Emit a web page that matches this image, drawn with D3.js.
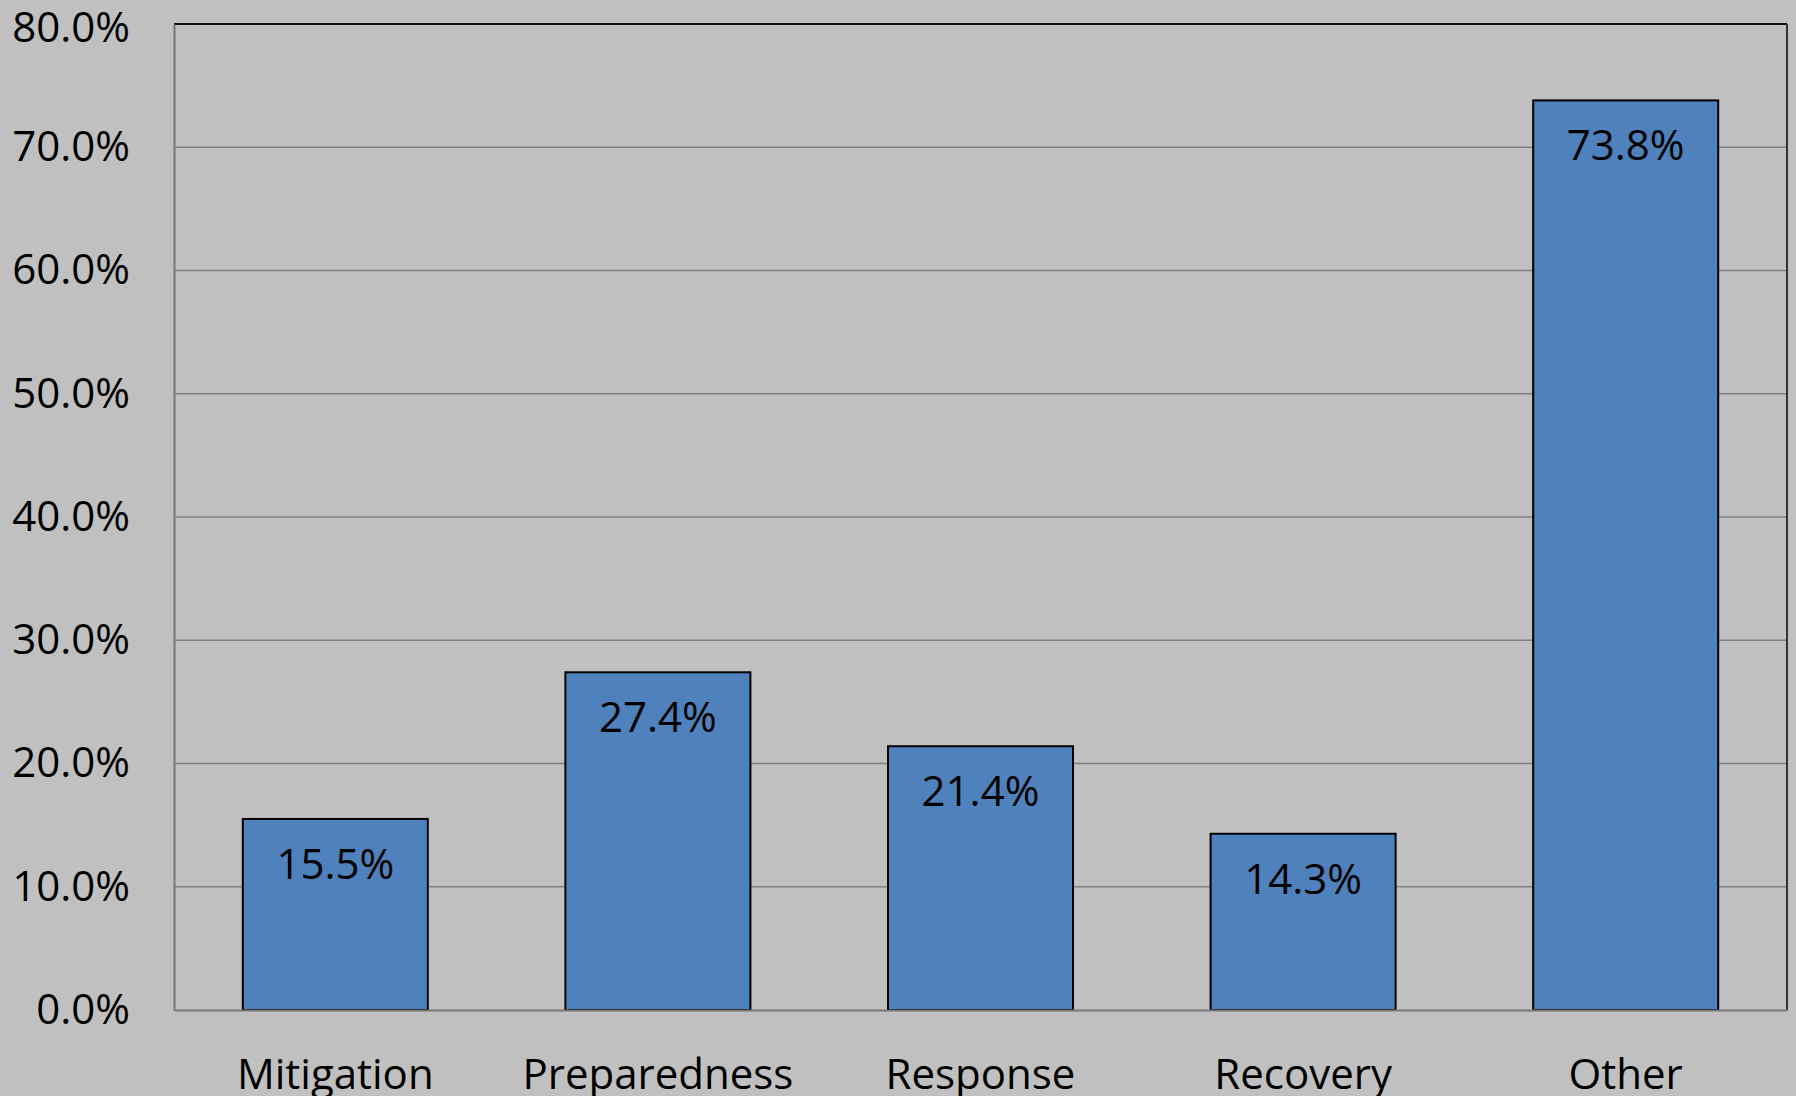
<!DOCTYPE html>
<html>
<head>
<meta charset="utf-8">
<script src="https://cdn.jsdelivr.net/npm/d3@7"></script>
<style>
  html, body { margin: 0; padding: 0; background: #c0c0c0; }
  svg { display: block; }
  text { font-family: "Open Sans", sans-serif; fill: #000; }
</style>
</head>
<body>
<svg id="chart" width="1796" height="1096"></svg>
<script>
// Share of responses by phase of emergency management
const categories = ["Mitigation", "Preparedness", "Response", "Recovery", "Other"];
const values = [15.5, 27.4, 21.4, 14.3, 73.8];
const yTicks = [0, 10, 20, 30, 40, 50, 60, 70, 80];

const W = 1796, H = 1096;
const plot = { left: 174, right: 1787, top: 24, bottom: 1010 };
const fontSize = 42;

const svg = d3.select("#chart");
svg.append("rect").attr("width", W).attr("height", H).attr("fill", "#c0c0c0");

const x = d3.scaleBand()
  .domain(categories)
  .range([plot.left, plot.right])
  .paddingInner(0.4265)
  .paddingOuter(0.4265 / 2);

const y = d3.scaleLinear().domain([0, 80]).range([plot.bottom, plot.top]);

// horizontal gridlines
svg.append("g")
  .selectAll("line")
  .data(yTicks.filter(t => t > 0 && t < 80))
  .join("line")
  .attr("x1", plot.left).attr("x2", plot.right)
  .attr("y1", d => y(d)).attr("y2", d => y(d))
  .attr("stroke", "#808080").attr("stroke-width", 1.5);

// plot frame: top/right dark, axis lines grey
svg.append("line").attr("x1", plot.left).attr("x2", plot.right)
  .attr("y1", y(80)).attr("y2", y(80)).attr("stroke", "#111").attr("stroke-width", 2);
svg.append("line").attr("x1", plot.right).attr("x2", plot.right)
  .attr("y1", y(80)).attr("y2", plot.bottom).attr("stroke", "#333").attr("stroke-width", 2);

// bars
svg.append("g")
  .selectAll("rect")
  .data(values)
  .join("rect")
  .attr("x", (d, i) => x(categories[i]))
  .attr("width", x.bandwidth())
  .attr("y", d => y(d))
  .attr("height", d => y(0) - y(d))
  .attr("fill", "#4f81bd")
  .attr("stroke", "#000")
  .attr("stroke-width", 2);

// axes
const yAxis = d3.axisLeft(y).tickValues(yTicks).tickSize(0).tickPadding(44)
  .tickFormat(d => d.toFixed(1) + "%");
const gy = svg.append("g").attr("transform", `translate(${plot.left},0)`).call(yAxis);
gy.select(".domain").attr("stroke", "#777").attr("stroke-width", 2);
gy.selectAll("text").attr("font-size", fontSize).attr("font-family", "Open Sans, sans-serif").attr("fill", "#000");
// keep the top tick label inside the canvas
gy.selectAll(".tick").filter(d => d === 80).select("text").attr("dy", "0.42em");

const xAxis = d3.axisBottom(x).tickSize(0).tickPadding(49);
const gx = svg.append("g").attr("transform", `translate(0,${plot.bottom})`).call(xAxis);
gx.select(".domain").attr("stroke", "#777").attr("stroke-width", 2);
gx.selectAll("text").attr("font-size", fontSize).attr("font-family", "Open Sans, sans-serif").attr("fill", "#000");

// value labels inside bar tops
svg.append("g")
  .selectAll("text")
  .data(values)
  .join("text")
  .attr("x", (d, i) => x(categories[i]) + x.bandwidth() / 2)
  .attr("y", d => y(d) + 60)
  .attr("text-anchor", "middle")
  .attr("font-size", fontSize)
  .text(d => d.toFixed(1) + "%");
</script>
</body>
</html>
